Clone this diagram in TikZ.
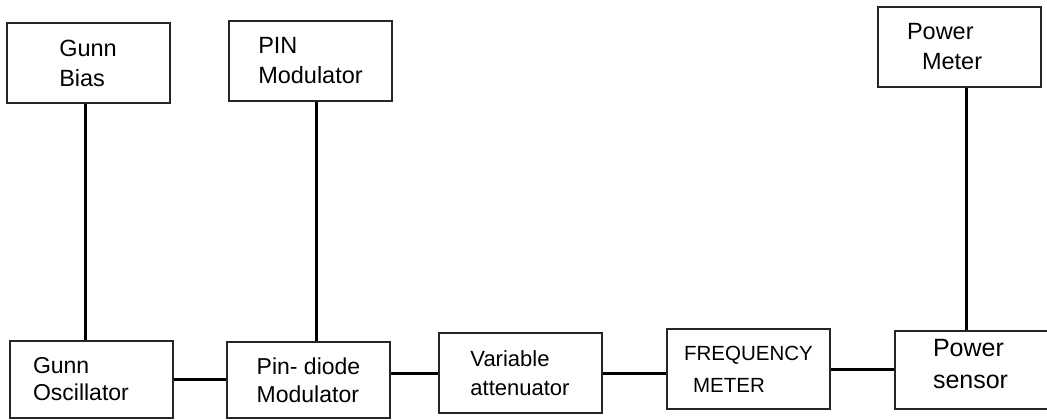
\documentclass[tikz,border=0pt]{standalone}
\usepackage{fontspec}
\setmainfont{Liberation Sans}
\begin{document}
\begin{tikzpicture}[x=1pt,y=-1pt]
	\useasboundingbox (0,0) rectangle (1047,420);
	\tikzstyle{block}=[draw=black!85, line width=2pt, minimum width=163pt, minimum height=80pt, align=left, font=\fontsize{23.5}{30}\selectfont]
	\tikzstyle{wire}=[draw=black, line width=3pt]
	% top row
	\node[block] (gbias) at (88,63) {Gunn\\Bias};
	\node[block] (pinmod) at (310.5,61) {PIN\\Modulator};
	\node[block, text width=105pt] (pmeter) at (959.5,47) {Power\\\hspace{15pt}Meter};
	% bottom row
	\node[block, minimum height=77pt, text width=116pt, font=\fontsize{23}{27}\selectfont] (gosc) at (91,379.5) {Gunn\\Oscillator};
	\node[block, minimum height=76pt, font=\fontsize{23}{28}\selectfont] (pdmod) at (308.5,380) {Pin- diode\\Modulator};
	\node[block, font=\fontsize{22}{29}\selectfont] (vatt) at (520,373) {Variable\\attenuator};
	\node[block, font=\fontsize{20.5}{32}\selectfont] (fmeter) at (748.5,369) {FREQUENCY\\\hspace{9pt}METER};
	\node[block, minimum height=78pt, text width=86pt, text depth=44pt, font=\fontsize{25}{32}\selectfont] (psensor) at (976,370) {Power\\sensor};
	\foreach \up/\down/\dx in {gbias/gosc/-3,pinmod/pdmod/5.5,pmeter/psensor/6.5} {
		\path[wire] ([xshift=\dx pt]\up.south) -- ([xshift=\dx pt]\up.south |- \down.north);
	}
	\path[wire] (gosc.east) -- (gosc.east -| pdmod.west);
	\path[wire] (vatt.west -| pdmod.east) -- (vatt.west);
	\path[wire] (vatt.east) -- (vatt.east -| fmeter.west);
	\path[wire] (fmeter.east) -- (fmeter.east -| psensor.west);
\end{tikzpicture}
\end{document}
